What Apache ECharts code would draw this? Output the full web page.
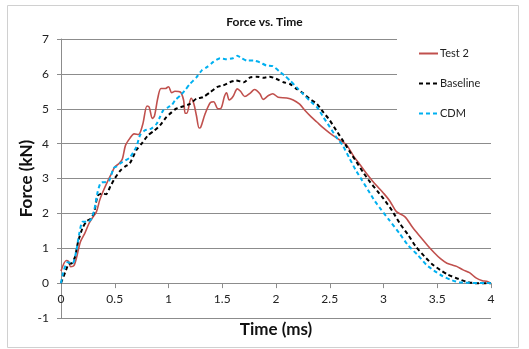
<!DOCTYPE html>
<html>
<head>
<meta charset="utf-8">
<script src="https://cdn.jsdelivr.net/npm/echarts@6/dist/echarts.min.js"></script>
<style>
  html, body { margin: 0; padding: 0; background: #fff; }
  #chart { width: 529px; height: 349px; }
</style>
</head>
<body>
<div id="chart"></div>
<script>
// Test 2 (measured)
const test2Time = [0, 0.05, 0.07, 0.09, 0.12, 0.15, 0.18, 0.22, 0.26, 0.29, 0.33, 0.36, 0.39, 0.44, 0.47, 0.5, 0.54, 0.57,
  0.6, 0.64, 0.68, 0.72, 0.76, 0.8, 0.82, 0.85, 0.87, 0.9, 0.93, 0.97, 1.0, 1.03, 1.06, 1.11, 1.14, 1.155, 1.17, 1.21,
  1.235, 1.26, 1.285, 1.3, 1.34, 1.39, 1.42, 1.46, 1.49, 1.52, 1.54, 1.565, 1.6, 1.64, 1.67, 1.71, 1.76, 1.8, 1.85, 1.88,
  1.93, 1.97, 2.02, 2.1, 2.16, 2.22, 2.27, 2.33, 2.38, 2.44, 2.5, 2.56, 2.62, 2.66, 2.72, 2.78, 2.84, 2.89, 2.95, 3.0,
  3.06, 3.12, 3.2, 3.27, 3.35, 3.41, 3.47, 3.53, 3.59, 3.64, 3.68, 3.74, 3.8, 3.86, 3.92, 3.96, 4.0];
const test2Force = [0.35, 0.65, 0.62, 0.47, 0.5, 0.8, 1.18, 1.42, 1.71, 1.86, 2.05, 2.38, 2.62, 2.96, 3.14, 3.33, 3.43, 3.55,
  3.95, 4.15, 4.28, 4.26, 4.55, 5.08, 5.05, 4.72, 4.8, 5.3, 5.58, 5.58, 5.63, 5.46, 5.5, 5.48, 5.25, 4.87, 4.87, 5.3,
  5.15, 4.8, 4.45, 4.47, 4.85, 5.18, 5.2, 5.0, 5.02, 5.35, 5.46, 5.25, 5.35, 5.57, 5.5, 5.35, 5.45, 5.55, 5.43, 5.27,
  5.38, 5.43, 5.33, 5.31, 5.25, 5.13, 4.95, 4.76, 4.62, 4.45, 4.3, 4.17, 4.05, 3.95, 3.65, 3.4, 3.15, 2.96, 2.75, 2.58,
  2.35, 2.05, 1.9, 1.6, 1.3, 1.08, 0.88, 0.7, 0.57, 0.52, 0.48, 0.38, 0.3, 0.15, 0.07, 0.05, 0];

// Baseline
const baselineTime = [0, 0.04, 0.07, 0.1, 0.13, 0.16, 0.2, 0.24, 0.28, 0.31, 0.34, 0.38, 0.42, 0.46, 0.5, 0.55, 0.6, 0.64,
  0.7, 0.75, 0.81, 0.87, 0.92, 0.98, 1.03, 1.07, 1.14, 1.2, 1.26, 1.32, 1.39, 1.45, 1.51, 1.57, 1.63, 1.7, 1.76, 1.82,
  1.88, 1.94, 2.0, 2.07, 2.13, 2.19, 2.25, 2.31, 2.38, 2.44, 2.5, 2.56, 2.63, 2.69, 2.75, 2.81, 2.87, 2.94, 3.0, 3.08,
  3.15, 3.23, 3.3, 3.38, 3.45, 3.53, 3.6, 3.68, 3.77, 3.85, 4.0];
const baselineForce = [0, 0.32, 0.55, 0.57, 0.75, 1.2, 1.58, 1.78, 1.85, 2.05, 2.5, 2.57, 2.55, 2.78, 3.0, 3.22, 3.35, 3.43,
  3.81, 4.0, 4.24, 4.38, 4.52, 4.76, 4.9, 5.0, 5.07, 5.14, 5.29, 5.33, 5.48, 5.62, 5.67, 5.76, 5.81, 5.76, 5.9, 5.92,
  5.89, 5.92, 5.86, 5.76, 5.71, 5.57, 5.45, 5.29, 5.14, 4.9, 4.67, 4.38, 4.05, 3.75, 3.47, 3.18, 2.92, 2.65, 2.42, 2.08,
  1.72, 1.38, 1.05, 0.77, 0.55, 0.37, 0.24, 0.14, 0.04, 0, 0];

// CDM
const cdmTime = [0, 0.02, 0.06, 0.11, 0.14, 0.17, 0.2, 0.25, 0.28, 0.31, 0.34, 0.37, 0.42, 0.45, 0.49, 0.52, 0.55, 0.6,
  0.64, 0.7, 0.735, 0.78, 0.84, 0.89, 0.92, 0.95, 1.0, 1.03, 1.06, 1.11, 1.15, 1.2, 1.26, 1.31, 1.36, 1.42, 1.48, 1.54,
  1.6, 1.64, 1.68, 1.73, 1.79, 1.85, 1.91, 1.97, 2.04, 2.08, 2.13, 2.19, 2.25, 2.31, 2.38, 2.44, 2.5, 2.56, 2.62, 2.68,
  2.74, 2.8, 2.86, 2.92, 2.98, 3.05, 3.15, 3.23, 3.32, 3.4, 3.47, 3.55, 3.62, 3.71, 4.0];
const cdmForce = [0, 0.3, 0.6, 0.57, 0.89, 1.42, 1.76, 1.76, 1.83, 2.1, 2.6, 2.88, 2.9, 2.95, 3.3, 3.35, 3.43, 3.52,
  3.6, 3.9, 4.24, 4.38, 4.43, 4.57, 4.76, 4.95, 5.05, 5.1, 5.24, 5.38, 5.52, 5.71, 5.9, 6.1, 6.2, 6.35, 6.45, 6.42,
  6.45, 6.52, 6.45, 6.38, 6.38, 6.33, 6.24, 6.22, 6.05, 5.95, 5.81, 5.62, 5.43, 5.24, 5.05, 4.76, 4.48, 4.19, 3.95, 3.6,
  3.25, 2.95, 2.65, 2.35, 2.1, 1.82, 1.42, 1.08, 0.8, 0.52, 0.36, 0.2, 0.1, 0.02, 0];

const seriesNames = ['Test 2', 'Baseline', 'CDM'];

const pair = (xs, ys) => xs.map((x, i) => [x, ys[i]]);

const FONT = 'Lato';
const GRAY = '#8c8c8c';
// plot box height / 8 units -> pixels for one unit, used to lift the x axis onto y = 0
const UNIT_PX = (349 - 39 - 31) / 8;

const chart = echarts.init(document.getElementById('chart'));
chart.setOption({
  animation: false,
  backgroundColor: '#fff',
  textStyle: { fontFamily: FONT },
  graphic: [{
    type: 'rect',
    shape: { x: 7.5, y: 5.5, width: 511, height: 342 },
    style: { fill: 'none', stroke: '#d0d0d0', lineWidth: 1 },
    z: -1
  }],
  title: {
    text: 'Force vs. Time',
    left: 'center',
    top: 11,
    textStyle: { fontSize: 12, fontWeight: 'bold', color: '#111', fontFamily: FONT }
  },
  legend: {
    orient: 'vertical',
    left: 397,
    top: 35,
    padding: [13, 30, 13, 21],
    itemGap: 19,
    itemWidth: 19,
    itemHeight: 12,
    backgroundColor: '#fff',
    itemStyle: { opacity: 0 },
    data: seriesNames,
    textStyle: { fontSize: 11, color: '#222', fontFamily: FONT, padding: [0, 0, 0, -3] }
  },
  grid: { left: 61, right: 38, top: 39, bottom: 31, outerBoundsMode: 'none' },
  xAxis: {
    type: 'value',
    min: 0,
    max: 4,
    interval: 0.5,
    offset: -UNIT_PX,
    name: 'Time (ms)',
    nameLocation: 'middle',
    nameGap: 38,
    nameMoveOverlap: false,
    nameTextStyle: { fontSize: 17, fontWeight: 'bold', color: '#111', fontFamily: FONT },
    axisLine: { onZero: false, lineStyle: { color: GRAY, width: 1 } },
    axisTick: { show: true, length: 5, lineStyle: { color: GRAY } },
    axisLabel: { fontSize: 12, color: '#222', margin: 10 },
    splitLine: { show: false }
  },
  yAxis: {
    type: 'value',
    min: -1,
    max: 7,
    interval: 1,
    name: 'Force (kN)',
    nameLocation: 'middle',
    nameGap: 26,
    nameMoveOverlap: false,
    nameRotate: 90,
    nameTextStyle: { fontSize: 17, fontWeight: 'bold', color: '#111', fontFamily: FONT },
    axisLine: { show: true, lineStyle: { color: GRAY, width: 1 } },
    axisTick: { show: true, length: 4, lineStyle: { color: GRAY } },
    axisLabel: { fontSize: 12, color: '#222', margin: 12 },
    splitLine: { show: true, lineStyle: { color: GRAY, width: 1 } }
  },
  series: [
    {
      name: seriesNames[0],
      type: 'line',
      data: pair(test2Time, test2Force),
      symbol: 'none',
      smooth: 0.3,
      lineStyle: { color: '#C0504D', width: 1.6 },
      itemStyle: { color: '#C0504D' }
    },
    {
      name: seriesNames[1],
      type: 'line',
      data: pair(baselineTime, baselineForce),
      symbol: 'none',
      smooth: 0.2,
      lineStyle: { color: '#000', width: 2, type: [4, 3] },
      itemStyle: { color: '#000' }
    },
    {
      name: seriesNames[2],
      type: 'line',
      data: pair(cdmTime, cdmForce),
      symbol: 'none',
      smooth: 0.2,
      lineStyle: { color: '#00B0F0', width: 2, type: [4, 3] },
      itemStyle: { color: '#00B0F0' }
    }
  ]
});
</script>
</body>
</html>
